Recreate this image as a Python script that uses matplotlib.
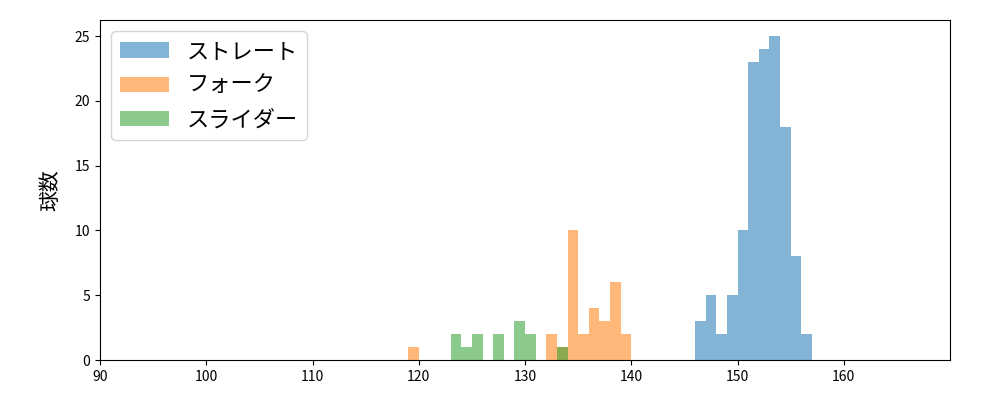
import numpy as np
import matplotlib
matplotlib.use("Agg")
import matplotlib.pyplot as plt

plt.rcParams["font.family"] = ["Noto Sans CJK JP", "DejaVu Sans"]

# bin left edges (km/h) and counts per pitch type
straight_kmh = [146, 147, 148, 149, 150, 151, 152, 153, 154, 155, 156]
straight_cnt = [3, 5, 2, 5, 10, 23, 24, 25, 18, 8, 2]

fork_kmh = [119, 132, 133, 134, 135, 136, 137, 138, 139]
fork_cnt = [1, 2, 1, 10, 2, 4, 3, 6, 2]

slider_kmh = [123, 124, 125, 127, 129, 130, 133]
slider_cnt = [2, 1, 2, 2, 3, 2, 1]

labels = ["ストレート", "フォーク", "スライダー"]

fig, ax = plt.subplots(figsize=(10, 4), dpi=100)
for kmh, cnt, lab in [(straight_kmh, straight_cnt, labels[0]),
                      (fork_kmh, fork_cnt, labels[1]),
                      (slider_kmh, slider_cnt, labels[2])]:
    ax.bar(kmh, cnt, width=1, align="edge", alpha=0.55, label=lab)

ax.set_xlim(90, 170)
ax.set_ylim(0, 26.25)
ax.set_xticks(np.arange(90, 170, 10))
ax.set_ylabel("球数", fontsize=15, labelpad=10)
ax.legend(loc="upper left", fontsize=16, handlelength=2.2)
plt.subplots_adjust(left=0.1, right=0.95, top=0.95, bottom=0.1)
fig.savefig("out.png", dpi=100)
